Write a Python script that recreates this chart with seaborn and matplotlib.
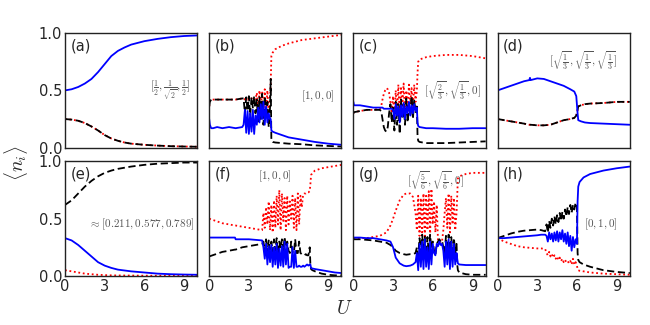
import numpy as np
import matplotlib
matplotlib.use("Agg")
import matplotlib.pyplot as plt
import seaborn as sns

# ---- data: occupations <n_i> vs U, one block per panel ----
a_U = [0, 0.5, 1, 1.5, 2, 2.5, 3, 3.5, 4, 4.5, 5, 6, 7, 8, 9, 10]
a_blue = [0.50, 0.51, 0.53, 0.56, 0.60, 0.66, 0.73, 0.80, 0.845, 0.875, 0.90, 0.93, 0.95, 0.965, 0.975, 0.98]
a_black = [0.25, 0.245, 0.235, 0.215, 0.185, 0.15, 0.11, 0.08, 0.06, 0.045, 0.035, 0.025, 0.018, 0.013, 0.01, 0.008]
a_red = a_black

b_U = [0, 0.05, 0.15, 0.3, 0.6, 1.0, 1.5, 2.0, 2.5] + list(np.linspace(2.6, 4.6, 21)) + \
      [4.65, 4.7, 4.8, 5.0, 5.5, 6, 7, 8, 9, 10]
b_blue = [0.25, 0.20, 0.17, 0.17, 0.18, 0.17, 0.18, 0.17, 0.18,
          0.20, 0.33, 0.13, 0.32, 0.12, 0.30, 0.14, 0.33, 0.12, 0.28, 0.20, 0.35, 0.22, 0.38, 0.25, 0.40, 0.20, 0.36, 0.22, 0.30, 0.25,
          0.25, 0.15, 0.14, 0.13, 0.11, 0.09, 0.07, 0.05, 0.035, 0.025]
b_black = [0.36, 0.40, 0.42, 0.42, 0.42, 0.42, 0.42, 0.42, 0.43,
           0.43, 0.30, 0.44, 0.32, 0.45, 0.28, 0.44, 0.35, 0.45, 0.30, 0.42, 0.22, 0.44, 0.25, 0.47, 0.20, 0.45, 0.26, 0.40, 0.18, 0.35,
           0.60, 0.06, 0.05, 0.045, 0.04, 0.035, 0.03, 0.02, 0.015, 0.01]
b_red = [0.36, 0.41, 0.42, 0.42, 0.42, 0.42, 0.42, 0.42, 0.43,
         0.43, 0.42, 0.43, 0.42, 0.43, 0.42, 0.43, 0.42, 0.43, 0.42, 0.48, 0.30, 0.50, 0.35, 0.49, 0.28, 0.51, 0.32, 0.50, 0.30, 0.45,
         0.55, 0.80, 0.83, 0.86, 0.89, 0.91, 0.94, 0.955, 0.97, 0.985]

c_U = [0, 0.05, 0.5, 1.0, 1.5, 2.0] + list(np.linspace(2.1, 4.8, 28)) + \
      [4.85, 4.9, 5.0, 5.5, 6, 7, 8, 9, 10]
c_blue = [0.40, 0.37, 0.37, 0.36, 0.35, 0.35,
          0.35, 0.35, 0.34, 0.34, 0.34, 0.34, 0.34, 0.34, 0.34, 0.33,
          0.25, 0.38, 0.28, 0.36, 0.22, 0.37, 0.27, 0.39, 0.25, 0.36,
          0.30, 0.40, 0.28, 0.37, 0.30, 0.38, 0.32, 0.35,
          0.22, 0.19, 0.18, 0.17, 0.17, 0.165, 0.165, 0.17, 0.17]
c_black = [0.30, 0.31, 0.32, 0.33, 0.33, 0.33,
           0.32, 0.25, 0.18, 0.15, 0.14, 0.18, 0.30, 0.38, 0.22, 0.35,
           0.15, 0.40, 0.20, 0.38, 0.12, 0.42, 0.25, 0.38, 0.20, 0.43,
           0.22, 0.40, 0.28, 0.45, 0.25, 0.42, 0.30, 0.38,
           0.10, 0.06, 0.05, 0.04, 0.04, 0.04, 0.045, 0.05, 0.055]
c_red = [0.30, 0.31, 0.32, 0.33, 0.33, 0.34,
         0.36, 0.42, 0.47, 0.50, 0.52, 0.51, 0.48, 0.40, 0.30, 0.45,
         0.25, 0.50, 0.30, 0.55, 0.28, 0.52, 0.35, 0.56, 0.30, 0.50,
         0.32, 0.55, 0.38, 0.52, 0.35, 0.55, 0.40, 0.50,
         0.65, 0.75, 0.77, 0.79, 0.80, 0.81, 0.81, 0.80, 0.78]

d_U = [0, 0.5, 1, 1.5, 2, 2.4, 2.45, 2.5, 3, 3.5, 4, 4.5, 5, 5.5, 5.8, 5.95, 6.05, 6.1, 6.3, 6.6, 7, 8, 9, 10]
d_blue = [0.50, 0.52, 0.54, 0.56, 0.58, 0.59, 0.61, 0.59, 0.605, 0.60, 0.58, 0.56, 0.54, 0.51, 0.49, 0.45,
          0.30, 0.24, 0.23, 0.22, 0.215, 0.21, 0.205, 0.20]
d_black = [0.25, 0.24, 0.23, 0.22, 0.21, 0.20, 0.20, 0.20, 0.195, 0.195, 0.20, 0.22, 0.24, 0.25, 0.26, 0.28,
           0.33, 0.36, 0.37, 0.38, 0.385, 0.39, 0.40, 0.40]
d_red = d_black

e_U = [0, 0.5, 1, 1.5, 2, 2.5, 3, 3.5, 4, 5, 6, 7, 8, 9, 10]
e_blue = [0.33, 0.31, 0.27, 0.22, 0.17, 0.12, 0.09, 0.07, 0.055, 0.04, 0.03, 0.02, 0.015, 0.012, 0.01]
e_black = [0.62, 0.66, 0.72, 0.78, 0.83, 0.87, 0.90, 0.92, 0.935, 0.955, 0.97, 0.98, 0.985, 0.99, 0.99]
e_red = [0.05, 0.04, 0.03, 0.02, 0.015, 0.01, 0.007, 0.005, 0.004, 0.003, 0.002, 0.002, 0.001, 0.001, 0.001]

f_U = [0, 0.5, 1, 1.5, 1.95, 2.0, 2.5, 3, 3.5, 4.0] + list(np.linspace(4.1, 7.6, 36)) + \
      [7.65, 7.7, 7.8, 8.0, 8.5, 9, 9.5, 10]
f_blue = [0.335, 0.335, 0.335, 0.335, 0.335, 0.32, 0.32, 0.32, 0.315, 0.31,
          0.25, 0.15, 0.28, 0.10, 0.26, 0.12, 0.27, 0.08, 0.25, 0.10,
          0.28, 0.07, 0.24, 0.09, 0.26, 0.08, 0.30, 0.10, 0.28, 0.07,
          0.08, 0.08, 0.25, 0.07, 0.22, 0.08, 0.08, 0.09, 0.08, 0.08,
          0.09, 0.08, 0.09, 0.10, 0.09, 0.10,
          0.10, 0.07, 0.065, 0.06, 0.05, 0.04, 0.03, 0.025]
f_black = [0.17, 0.19, 0.21, 0.22, 0.23, 0.23, 0.25, 0.26, 0.27, 0.28,
           0.30, 0.22, 0.32, 0.20, 0.31, 0.23, 0.30, 0.21, 0.32, 0.22,
           0.33, 0.20, 0.30, 0.24, 0.32, 0.22, 0.34, 0.20, 0.30, 0.22,
           0.20, 0.30, 0.21, 0.20, 0.32, 0.20, 0.20, 0.30, 0.20, 0.19,
           0.19, 0.18, 0.19, 0.18, 0.18, 0.25,
           0.10, 0.06, 0.05, 0.04, 0.02, 0.01, 0.005, 0.005]
f_red = [0.50, 0.48, 0.46, 0.45, 0.44, 0.44, 0.43, 0.42, 0.41, 0.40,
         0.55, 0.42, 0.60, 0.45, 0.65, 0.40, 0.62, 0.38, 0.66, 0.42,
         0.70, 0.45, 0.75, 0.40, 0.72, 0.48, 0.68, 0.40, 0.70, 0.45,
         0.65, 0.50, 0.70, 0.42, 0.68, 0.40, 0.72, 0.45, 0.70, 0.60,
         0.71, 0.72, 0.72, 0.73, 0.73, 0.74,
         0.80, 0.88, 0.90, 0.92, 0.94, 0.95, 0.96, 0.97]

g_U = [0, 0.5, 1, 1.5, 2, 2.5, 2.8, 3.0, 3.2, 3.5, 3.8, 4.0, 4.3, 4.5, 4.7] + list(np.linspace(4.8, 7.8, 31)) + \
      [7.85, 7.9, 8.0, 8.5, 9, 9.5, 10]
g_blue = [0.335, 0.335, 0.33, 0.33, 0.32, 0.31, 0.30, 0.25, 0.16, 0.11, 0.09, 0.085, 0.09, 0.10, 0.12,
          0.20, 0.05, 0.28, 0.08, 0.30, 0.06, 0.32, 0.08, 0.25, 0.06,
          0.30, 0.10, 0.28, 0.20, 0.18, 0.28, 0.26, 0.30, 0.27, 0.28,
          0.22, 0.08, 0.30, 0.10, 0.32, 0.06, 0.30, 0.08, 0.28, 0.10, 0.20,
          0.15, 0.11, 0.10, 0.095, 0.095, 0.095, 0.095]
g_black = [0.32, 0.32, 0.315, 0.31, 0.30, 0.29, 0.27, 0.25, 0.22, 0.20, 0.19, 0.185, 0.19, 0.19, 0.20,
           0.25, 0.18, 0.33, 0.20, 0.36, 0.22, 0.35, 0.18, 0.34, 0.20,
           0.36, 0.24, 0.30, 0.22, 0.18, 0.28, 0.30, 0.32, 0.30, 0.31,
           0.25, 0.20, 0.35, 0.18, 0.36, 0.22, 0.34, 0.16, 0.33, 0.20, 0.28,
           0.10, 0.05, 0.03, 0.015, 0.01, 0.01, 0.01]
g_red = [0.33, 0.33, 0.33, 0.34, 0.35, 0.38, 0.44, 0.50, 0.57, 0.66, 0.71, 0.72, 0.72, 0.69, 0.55,
         0.40, 0.70, 0.35, 0.68, 0.38, 0.72, 0.33, 0.70, 0.40, 0.74,
         0.35, 0.76, 0.45, 0.65, 0.38, 0.62, 0.30, 0.30, 0.29, 0.30,
         0.40, 0.55, 0.68, 0.42, 0.72, 0.38, 0.70, 0.45, 0.68, 0.40, 0.55,
         0.70, 0.85, 0.87, 0.89, 0.90, 0.90, 0.90]

h_U = [0, 0.5, 1, 1.5, 2, 2.5, 3, 3.3, 3.6] + list(np.linspace(3.7, 6.0, 24)) + \
      [6.05, 6.1, 6.2, 6.5, 7, 8, 9, 10]
h_blue = [0.33, 0.33, 0.335, 0.34, 0.345, 0.35, 0.355, 0.36, 0.36,
          0.35, 0.30, 0.38, 0.32, 0.37, 0.30, 0.38, 0.31, 0.39, 0.30,
          0.38, 0.32, 0.40, 0.30, 0.37, 0.28, 0.38, 0.26, 0.35, 0.22,
          0.34, 0.25, 0.32, 0.28,
          0.65, 0.78, 0.82, 0.86, 0.89, 0.92, 0.94, 0.955]
h_black = [0.33, 0.35, 0.37, 0.385, 0.395, 0.40, 0.405, 0.40, 0.39,
           0.45, 0.38, 0.48, 0.42, 0.50, 0.44, 0.52, 0.45, 0.53, 0.47,
           0.55, 0.48, 0.56, 0.50, 0.58, 0.52, 0.60, 0.54, 0.62, 0.55,
           0.62, 0.58, 0.64, 0.60,
           0.20, 0.14, 0.12, 0.10, 0.08, 0.05, 0.035, 0.025]
h_red = [0.33, 0.30, 0.28, 0.26, 0.25, 0.245, 0.24, 0.24, 0.235,
         0.20, 0.18, 0.21, 0.17, 0.19, 0.16, 0.18, 0.15, 0.17, 0.14,
         0.16, 0.13, 0.15, 0.12, 0.14, 0.12, 0.13, 0.11, 0.13, 0.10,
         0.15, 0.10, 0.12, 0.09,
         0.06, 0.05, 0.045, 0.04, 0.03, 0.02, 0.015, 0.01]

labels = ["(a)", "(b)", "(c)", "(d)", "(e)", "(f)", "(g)", "(h)"]
notes = [r"$[\frac{1}{2},\frac{1}{\sqrt{2}},\frac{1}{2}]$", r"$[1,0,0]$",
         r"$[\sqrt{\frac{2}{3}},\sqrt{\frac{1}{3}},0]$",
         r"$[\sqrt{\frac{1}{3}},\sqrt{\frac{1}{3}},\sqrt{\frac{1}{3}}]$",
         r"$\approx[0.211,0.577,0.789]$", r"$[1,0,0]$",
         r"$[\sqrt{\frac{5}{6}},\sqrt{\frac{1}{6}},0]$", r"$[0,1,0]$"]
note_pos = [(0.80, 0.50), (0.82, 0.45), (0.75, 0.50), (0.65, 0.76),
            (0.58, 0.45), (0.50, 0.87), (0.62, 0.83), (0.78, 0.45)]

panels = [(a_U, a_blue, a_black, a_red), (b_U, b_blue, b_black, b_red),
          (c_U, c_blue, c_black, c_red), (d_U, d_blue, d_black, d_red),
          (e_U, e_blue, e_black, e_red), (f_U, f_blue, f_black, f_red),
          (g_U, g_blue, g_black, g_red), (h_U, h_blue, h_black, h_red)]

sns.set_style("white")
plt.rcParams["font.family"] = ["DejaVu Sans"]
plt.rcParams["mathtext.fontset"] = "cm"

fig, axes = plt.subplots(2, 4, figsize=(6.5, 3.25), dpi=100, sharex=True, sharey=True)
fig.subplots_adjust(left=0.1, right=0.969, top=0.898, bottom=0.151, wspace=0.09, hspace=0.12)

for i, ax in enumerate(axes.flat):
    U, blue, black, red = panels[i]
    sns.lineplot(x=U, y=red, ax=ax, color="red", linestyle=(0, (1, 1.5)), linewidth=1.3,
                 estimator=None, sort=False)
    sns.lineplot(x=U, y=black, ax=ax, color="black", linestyle=(0, (4, 2)), linewidth=1.3,
                 estimator=None, sort=False)
    sns.lineplot(x=U, y=blue, ax=ax, color="blue", linestyle="-", linewidth=1.3,
                 estimator=None, sort=False)
    ax.set_xlim(0, 10)
    ax.set_ylim(0, 1)
    ax.set_xticks([0, 3, 6, 9])
    ax.set_yticks([0, 0.5, 1.0])
    ax.set_yticklabels(["0.0", "0.5", "1.0"])
    ax.tick_params(length=0, pad=2, labelsize=10.5)
    for sp in ax.spines.values():
        sp.set_color("#222222")
        sp.set_linewidth(1.0)
    ax.text(0.04, 0.89, labels[i], transform=ax.transAxes, fontsize=10.5, va="center", ha="left")
    ax.text(note_pos[i][0], note_pos[i][1], notes[i], transform=ax.transAxes, fontsize=8,
            color="#555555", ha="center", va="center")

fig.text(0.53, 0.05, r"$U$", fontsize=14, ha="center", va="center")
fig.text(0.025, 0.5, r"$\langle n_i \rangle$", fontsize=14, rotation=90, ha="center", va="center")

fig.savefig("out.png", dpi=100)
